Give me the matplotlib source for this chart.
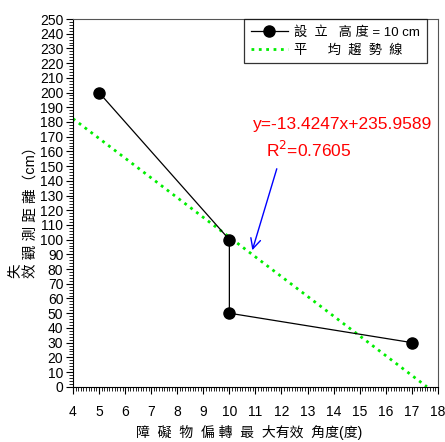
import matplotlib
matplotlib.use("Agg")
import matplotlib.pyplot as plt
import numpy as np
from matplotlib.ticker import MultipleLocator

plt.rcParams['font.family'] = ['Liberation Sans', 'Noto Sans CJK TC', 'DejaVu Sans']

# 資料
angle = [5, 10, 10, 17]
distance = [200, 100, 50, 30]
slope = -13.4247
intercept = 235.9589
r2 = 0.7605
trend_x = [4, -intercept / slope]

fig = plt.figure(figsize=(4.45, 4.42), dpi=100)
ax = fig.add_axes([0.164, 0.125, 0.820, 0.832])

# 實測資料
line_data, = ax.plot(angle, distance, color='black', linewidth=0.9, marker='o',
                     markersize=8, label='設  立   高 度 = 10 cm', zorder=3)

# 平均趨勢線
tx = np.array(trend_x)
line_trend, = ax.plot(tx, slope * tx + intercept, color='#00ee00', linestyle=':',
                      linewidth=2, label='平 　 均  趨  勢  線', zorder=2)

ax.set_xlim(4, 18)
ax.set_ylim(0, 250)
ax.xaxis.set_major_locator(MultipleLocator(1))
ax.xaxis.set_minor_locator(MultipleLocator(0.1))
ax.yaxis.set_major_locator(MultipleLocator(10))
ax.yaxis.set_minor_locator(MultipleLocator(2))
ax.tick_params(which='both', direction='out', top=False, right=False, labelsize=10)
ax.tick_params(axis='x', which='major', length=5, pad=8)
ax.tick_params(axis='y', which='major', length=5, pad=2)
ax.tick_params(which='minor', length=3)
for s in ['top', 'right']:
    ax.spines[s].set_color('#555555')

# 軸標題
fig.text(0.56, 0.004, '障  礙  物  偏 轉  最  大有效  角度(度)', fontsize=10,
         ha='center', va='bottom')
fig.text(0.052, 0.37, '失\n效 觀 測 距 離（cm）', rotation=90, fontsize=10.5,
         ha='center', va='bottom', multialignment='left')

# 趨勢線方程式
ax.text(10.9, 175, 'y=%.4fx+%.4f' % (slope, intercept), color='red', fontsize=12.5)
ax.text(11.4, 156, 'R$^2$=%.4f' % r2, color='red', fontsize=12.5)
ax.annotate('', xy=(10.85, 91), xytext=(11.85, 150),
            arrowprops=dict(arrowstyle='->', color='blue', lw=1, mutation_scale=18))

leg = ax.legend(handles=[line_data, line_trend], loc='upper right',
                bbox_to_anchor=(0.97, 1.0), fontsize=9.5, frameon=True, fancybox=False,
                edgecolor='black', borderaxespad=0.0, handlelength=2.8,
                handletextpad=0.5, borderpad=0.5, labelspacing=0.45)
leg.get_frame().set_linewidth(0.9)

fig.savefig('out.png', dpi=100)
